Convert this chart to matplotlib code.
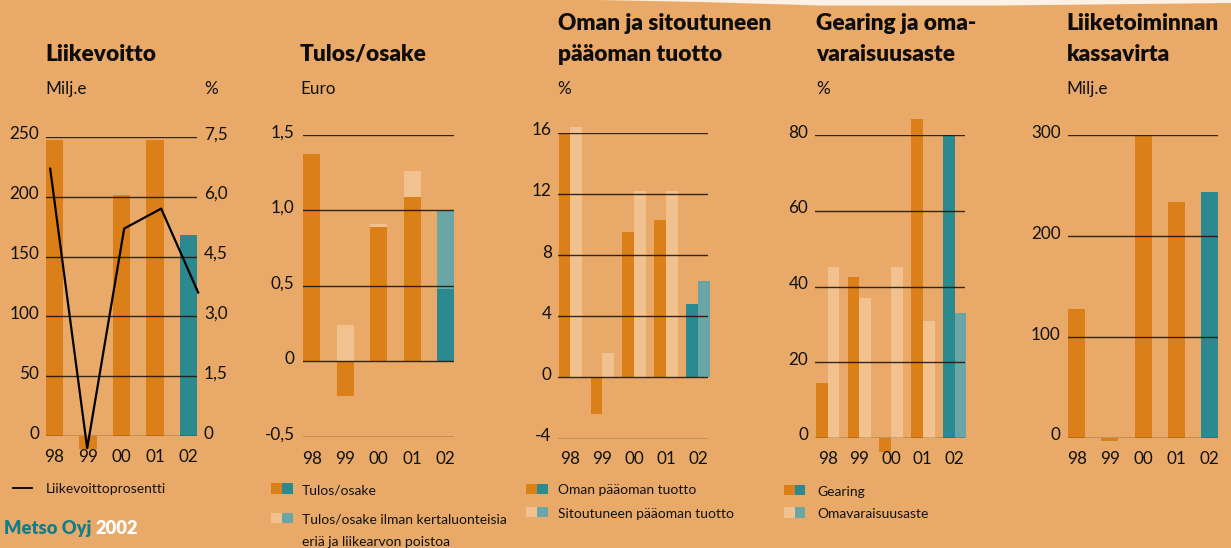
import numpy as np
import matplotlib
matplotlib.use('Agg')
import matplotlib.pyplot as plt
from matplotlib import transforms
from matplotlib.lines import Line2D
from matplotlib.patches import Rectangle, Polygon

years = ['98', '99', '00', '01', '02']

liikevoitto = [247, -11, 201, 247, 168]
liikevoitto_pct = [6.7, -0.3, 5.2, 5.7, 3.6]

tulos_osake = [1.37, -0.23, 0.89, 1.09, 0.48]
tulos_osake_ilman = [np.nan, 0.24, 0.91, 1.26, 1.00]

oman_tuotto = [16.0, -2.4, 9.5, 10.3, 4.8]
sitoutuneen_tuotto = [16.4, 1.6, 12.2, 12.2, 6.3]

gearing = [14.5, 42.5, -3.8, 84.3, 80.0]
omavaraisuus = [45.2, 37.0, 45.3, 30.9, 33.0]

kassavirta = [128, -3, 300, 234, 244]

BG = '#E9AA69'
ORANGE = '#DB7F18'
LIGHT = '#F1C290'
TEAL = '#2A8A8F'
LTEAL = '#6BA6A7'
GRID = '#22150a'
LOGO = '#137D88'

W, H = 1231, 548
FS_TITLE = 16.3
FS_TICK = 12.3
FS_LEG = 10

plt.rcParams['font.family'] = ['Lato', 'DejaVu Sans']

fig = plt.figure(figsize=(W / 100, H / 100), dpi=100)
fig.patch.set_facecolor(BG)


def fx(x):
    return x / W


def fy(y):
    return 1 - y / H


def panel(x0, x1, ytop, ybot, ylim, xlim):
    ax = fig.add_axes([fx(x0), fy(ybot), (x1 - x0) / W, (ybot - ytop) / H])
    ax.set_xlim(xlim)
    ax.set_ylim(ylim)
    ax.axis('off')
    return ax


def grid(ax, ticks):
    for t in ticks:
        ax.axhline(t, color=GRID, lw=1.0, alpha=0.9, zorder=5)


def ylabels(ax, ticks, labels, x_px, ha='right'):
    trans = transforms.blended_transform_factory(fig.transFigure, ax.transData)
    trans = transforms.offset_copy(trans, fig=fig, y=-2.5, units='dots')
    for t, lab in zip(ticks, labels):
        ax.text(fx(x_px), t, lab, transform=trans, ha=ha, va='baseline',
                fontsize=FS_TICK, color='#111111', clip_on=False)


def xlabels(ax, y_px):
    trans = transforms.blended_transform_factory(ax.transData, fig.transFigure)
    for i, lab in enumerate(years):
        ax.text(i, fy(y_px), lab, transform=trans, ha='center', va='baseline',
                fontsize=FS_TICK, color='#111111', clip_on=False)


def title(x_px, lines, unit):
    ys = [61] if len(lines) == 1 else [29.5, 61]
    for y, line in zip(ys, lines):
        fig.text(fx(x_px), fy(y), line, fontsize=FS_TITLE, fontweight='heavy',
                 va='baseline', color='#0d0d0d')
    fig.text(fx(x_px), fy(94), unit, fontsize=FS_TICK, va='baseline',
             color='#111111')


def legend_box(x_px, y_px, c1, c2):
    for k, c in enumerate([c1, c2]):
        fig.add_artist(Rectangle((fx(x_px + k * 10.7), fy(y_px + 5.3)),
                                 10.7 / W, 10.6 / H, transform=fig.transFigure,
                                 facecolor=c, edgecolor='none'))


def leg_text(x_px, y_px, s):
    fig.text(fx(x_px), fy(y_px), s, fontsize=FS_LEG, va='baseline',
             color='#111111')


x = np.arange(len(years))
single_xlim = (-0.255, 4.255)
pair_xlim = (-0.40, 4.31)
bw = 0.51
pw = 0.37
main_cols = [ORANGE] * 4 + [TEAL]
light_cols = [LIGHT] * 4 + [LTEAL]

# Liikevoitto
ax = panel(46, 197, 136.7, 436.3, (0, 250), single_xlim)
ax.bar(x, liikevoitto, bw, color=main_cols, zorder=2, clip_on=False, lw=0)
grid(ax, [0, 50, 100, 150, 200, 250])
ylabels(ax, [0, 50, 100, 150, 200, 250], ['0', '50', '100', '150', '200', '250'], 39)
ax2 = ax.twinx()
ax2.set_ylim(0, 7.5)
ax2.set_xlim(single_xlim)
ax2.axis('off')
line_x = np.linspace(-0.13, 4.29, len(years))
ax2.plot(line_x, liikevoitto_pct, color='black', lw=1.6, zorder=6, clip_on=False)
ylabels(ax2, [0, 1.5, 3.0, 4.5, 6.0, 7.5], ['0', '1,5', '3,0', '4,5', '6,0', '7,5'], 204, ha='left')
xlabels(ax, 462.5)
title(45, ['Liikevoitto'], 'Milj.e')
fig.text(fx(204), fy(94), '%', fontsize=FS_TICK, va='baseline', color='#111111')
fig.add_artist(Line2D([fx(12.7), fx(32.3)], [fy(488.3), fy(488.3)],
                      transform=fig.transFigure, color='black', lw=1.3))
leg_text(46, 493, 'Liikevoittoprosentti')

# Tulos/osake
ax = panel(303.3, 454, 134.7, 437, (-0.5, 1.5), single_xlim)
ax.bar(x, tulos_osake_ilman, bw, color=light_cols, zorder=2, clip_on=False, lw=0)
ax.bar(x, tulos_osake, bw, color=main_cols, zorder=3, clip_on=False, lw=0)
grid(ax, [-0.5, 0, 0.5, 1.0, 1.5])
ylabels(ax, [-0.5, 0, 0.5, 1.0, 1.5], ['-0,5', '0', '0,5', '1,0', '1,5'], 294.7)
xlabels(ax, 464)
title(300, ['Tulos/osake'], 'Euro')
legend_box(271.3, 488.7, ORANGE, TEAL)
leg_text(302, 494.5, 'Tulos/osake')
legend_box(271.3, 518, LIGHT, LTEAL)
leg_text(302, 523.5, 'Tulos/osake ilman kertaluonteisia')
leg_text(302, 545.5, 'eriä ja liikearvon poistoa')

# Oman ja sitoutuneen pääoman tuotto
ax = panel(557.7, 708, 132.7, 438.5, (-4, 16), pair_xlim)
ax.bar(x - pw / 2, oman_tuotto, pw, color=main_cols, zorder=2, clip_on=False, lw=0)
ax.bar(x + pw / 2, sitoutuneen_tuotto, pw, color=light_cols, zorder=2, clip_on=False, lw=0)
grid(ax, [-4, 0, 4, 8, 12, 16])
ylabels(ax, [-4, 0, 4, 8, 12, 16], ['-4', '0', '4', '8', '12', '16'], 551.7)
xlabels(ax, 464.5)
title(557.7, ['Oman ja sitoutuneen', 'pääoman tuotto'], '%')
legend_box(526.3, 489, ORANGE, TEAL)
leg_text(557.7, 494.5, 'Oman pääoman tuotto')
legend_box(526.3, 512, LIGHT, LTEAL)
leg_text(557.7, 517.5, 'Sitoutuneen pääoman tuotto')

# Gearing ja omavaraisuusaste
ax = panel(815, 964.5, 135.3, 438, (0, 80), pair_xlim)
ax.bar(x - pw / 2, gearing, pw, color=main_cols, zorder=2, clip_on=False, lw=0)
ax.bar(x + pw / 2, omavaraisuus, pw, color=light_cols, zorder=2, clip_on=False, lw=0)
grid(ax, [0, 20, 40, 60, 80])
ylabels(ax, [0, 20, 40, 60, 80], ['0', '20', '40', '60', '80'], 808.3)
xlabels(ax, 464.5)
title(816.5, ['Gearing ja oma-', 'varaisuusaste'], '%')
legend_box(784, 490, ORANGE, TEAL)
leg_text(817, 495.5, 'Gearing')
legend_box(784, 512.7, LIGHT, LTEAL)
leg_text(817, 518, 'Omavaraisuusaste')

# Liiketoiminnan kassavirta
ax = panel(1068.3, 1218, 135.3, 438, (0, 300), single_xlim)
ax.bar(x, kassavirta, bw, color=main_cols, zorder=2, clip_on=False, lw=0)
grid(ax, [0, 100, 200, 300])
ylabels(ax, [0, 100, 200, 300], ['0', '100', '200', '300'], 1060.7)
xlabels(ax, 464)
title(1066.7, ['Liiketoiminnan', 'kassavirta'], 'Milj.e')

# footer: two colours, second part placed after the first one's extent
logo = fig.text(fx(4), fy(534), 'Metso Oyj', fontsize=13.2, fontweight='heavy',
                va='baseline', color=LOGO)
bb = logo.get_window_extent(renderer=fig.canvas.get_renderer())
fig.text(bb.x1 / W + fx(4), fy(534), '2002', fontsize=13.2, fontweight='heavy',
         va='baseline', color='white')

# paper edge at the top
edge = [(600, 0), (1231, 0), (1231, 3), (1000, 5.5), (820, 5.5), (700, 2)]
fig.add_artist(Polygon([(fx(a), fy(b)) for a, b in edge], closed=True,
                       transform=fig.transFigure, facecolor='#FBF1E6',
                       edgecolor='none'))

fig.savefig('out.png', dpi=100, facecolor=BG)
